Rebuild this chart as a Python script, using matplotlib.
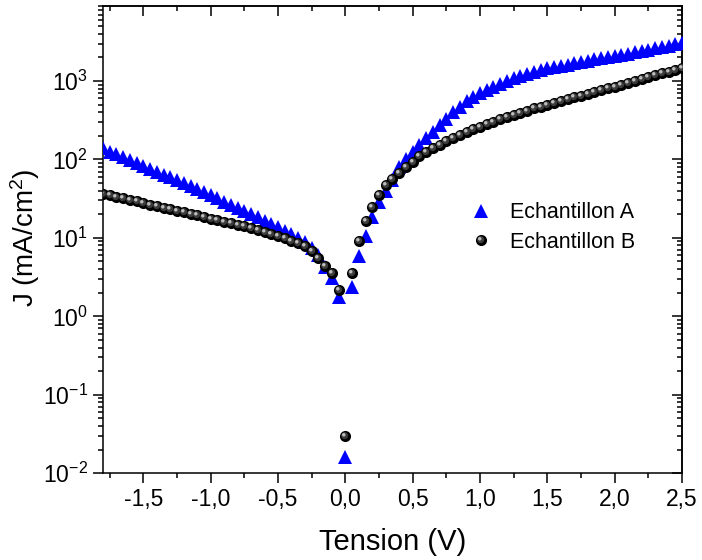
import numpy as np
import matplotlib
matplotlib.use("Agg")
import matplotlib.pyplot as plt
from matplotlib.path import Path
from matplotlib.ticker import FixedLocator, FuncFormatter, LogLocator, LogFormatterSciNotation

plt.rcParams['font.family'] = ['Liberation Sans', 'DejaVu Sans']
plt.rcParams['axes.unicode_minus'] = False
plt.rcParams['mathtext.default'] = 'regular'

# tension sweep, 0.05 V steps
tension = [
    -1.80, -1.75, -1.70, -1.65, -1.60, -1.55, -1.50, -1.45, -1.40, -1.35,
    -1.30, -1.25, -1.20, -1.15, -1.10, -1.05, -1.00, -0.95, -0.90, -0.85,
    -0.80, -0.75, -0.70, -0.65, -0.60, -0.55, -0.50, -0.45, -0.40, -0.35,
    -0.30, -0.25, -0.20, -0.15, -0.10, -0.05, 0.00, 0.05, 0.10, 0.15,
    0.20, 0.25, 0.30, 0.35, 0.40, 0.45, 0.50, 0.55, 0.60, 0.65,
    0.70, 0.75, 0.80, 0.85, 0.90, 0.95, 1.00, 1.05, 1.10, 1.15,
    1.20, 1.25, 1.30, 1.35, 1.40, 1.45, 1.50, 1.55, 1.60, 1.65,
    1.70, 1.75, 1.80, 1.85, 1.90, 1.95, 2.00, 2.05, 2.10, 2.15,
    2.20, 2.25, 2.30, 2.35, 2.40, 2.45, 2.50,
]

# current density (mA/cm2)
j_a = [
    138, 126, 116, 107, 98, 90, 83, 76, 69, 64,
    59, 54, 50, 46, 42, 38, 35, 32, 29, 26.5,
    24, 22, 20, 18.2, 16.6, 15.1, 13.6, 12.3, 11.2, 10.0,
    8.9, 7.4, 6.0, 4.2, 3.1, 1.75, 0.016, 2.4, 5.9, 10.6,
    18.6, 29, 40, 55, 79, 100, 126, 155, 186, 224,
    275, 331, 398, 468, 556, 631, 708, 776, 851, 923,
    1000, 1084, 1161, 1245, 1318, 1380, 1445, 1514, 1567, 1622,
    1679, 1738, 1820, 1884, 1950, 2018, 2089, 2163, 2239, 2317,
    2399, 2512, 2600, 2692, 2818, 2951, 3090,
]

j_b = [
    36.7, 35.1, 33.5, 32.0, 30.5, 29.2, 27.9, 26.6, 25.4, 24.3,
    23.2, 22.1, 21.1, 20.2, 19.3, 18.4, 17.6, 16.8, 16.0, 15.3,
    14.6, 14.0, 13.2, 12.6, 11.9, 11.2, 10.6, 10.0, 9.2, 8.5,
    7.8, 6.8, 5.6, 4.4, 3.55, 2.15, 0.030, 3.55, 9.1, 16.5,
    25, 35, 47, 57, 68, 81, 94, 112, 126, 141,
    155, 170, 186, 204, 224, 243, 263, 282, 302, 324,
    343, 367, 394, 417, 447, 473, 501, 525, 556, 589,
    617, 653, 692, 724, 767, 813, 851, 902, 955, 1012,
    1072, 1122, 1189, 1259, 1318, 1396, 1479,
]

xticks = [-1.5, -1.0, -0.5, 0.0, 0.5, 1.0, 1.5, 2.0, 2.5]
xminor = [-1.75, -1.25, -0.75, -0.25, 0.25, 0.75, 1.25, 1.75, 2.25]

# off-centre circles give the spheres their shine
shade = Path.circle(center=(-0.12, 0.12), radius=0.5)
shine = Path.circle(center=(-0.3, 0.3), radius=0.3)


def sphere(ax, x, y, size):
    body = ax.plot(x, y, linestyle='none', marker='o', markersize=size,
                   color='black', markeredgewidth=0, zorder=4)[0]
    mid = ax.plot(x, y, linestyle='none', marker=shade, markersize=size * 0.78,
                  color='#3c3c3c', markeredgewidth=0, zorder=5)[0]
    top = ax.plot(x, y, linestyle='none', marker=shine, markersize=size * 0.62,
                  color='#bdbdbd', markeredgewidth=0, zorder=6)[0]
    return (body, mid, top)


fig = plt.figure(figsize=(7.02, 5.6), dpi=100)
ax = fig.add_axes([0.1467, 0.155, 0.8248, 0.834])

ha = ax.plot(tension, j_a, linestyle='none', marker='^', markersize=9.5,
             color='#0000ff', markeredgewidth=0, zorder=3)[0]
hb = sphere(ax, tension, j_b, 8)

ax.set_yscale('log')
ax.set_xlim(-1.8, 2.5)
ax.set_ylim(1e-2, 9e3)

ax.xaxis.set_major_locator(FixedLocator(xticks))
ax.xaxis.set_minor_locator(FixedLocator(xminor))
ax.xaxis.set_major_formatter(FuncFormatter(lambda v, p: f"{v:.1f}".replace('.', ',')))
ax.yaxis.set_major_locator(LogLocator(base=10, numticks=20))
ax.yaxis.set_minor_locator(LogLocator(base=10, subs=np.arange(2, 10), numticks=20))
ax.yaxis.set_major_formatter(LogFormatterSciNotation())

ax.tick_params(which='major', direction='out', length=7, width=1.1, labelsize=16.5, pad=4)
ax.tick_params(which='minor', direction='out', length=3.5, width=1.1)
for s in ax.spines.values():
    s.set_linewidth(1.1)

# mirrored ticks pointing inwards on top and right
top = ax.secondary_xaxis('top')
top.xaxis.set_major_locator(FixedLocator(xticks))
top.xaxis.set_minor_locator(FixedLocator(xminor))
top.tick_params(which='major', direction='in', length=7, width=1.1, labeltop=False)
top.tick_params(which='minor', direction='in', length=3.5, width=1.1)
top.spines['top'].set_linewidth(1.1)

right = ax.secondary_yaxis('right')
right.yaxis.set_major_locator(LogLocator(base=10, numticks=20))
right.yaxis.set_minor_locator(LogLocator(base=10, subs=np.arange(2, 10), numticks=20))
right.tick_params(which='major', direction='in', length=7, width=1.1, labelright=False)
right.tick_params(which='minor', direction='in', length=3.5, width=1.1)
right.spines['right'].set_linewidth(1.1)

ax.set_xlabel('Tension (V)', fontsize=21, labelpad=12)
ax.set_ylabel('J (mA/cm$^2$)', fontsize=20)
ax.yaxis.set_label_coords(-0.105, 0.505)

ax.legend([ha, hb], ['Echantillon A', 'Echantillon B'],
          loc='center left', bbox_to_anchor=(0.612, 0.526), frameon=False,
          fontsize=15.5, borderpad=0, handletextpad=0.75, labelspacing=0.4,
          handlelength=1.2)

fig.savefig('out.png', dpi=100)
